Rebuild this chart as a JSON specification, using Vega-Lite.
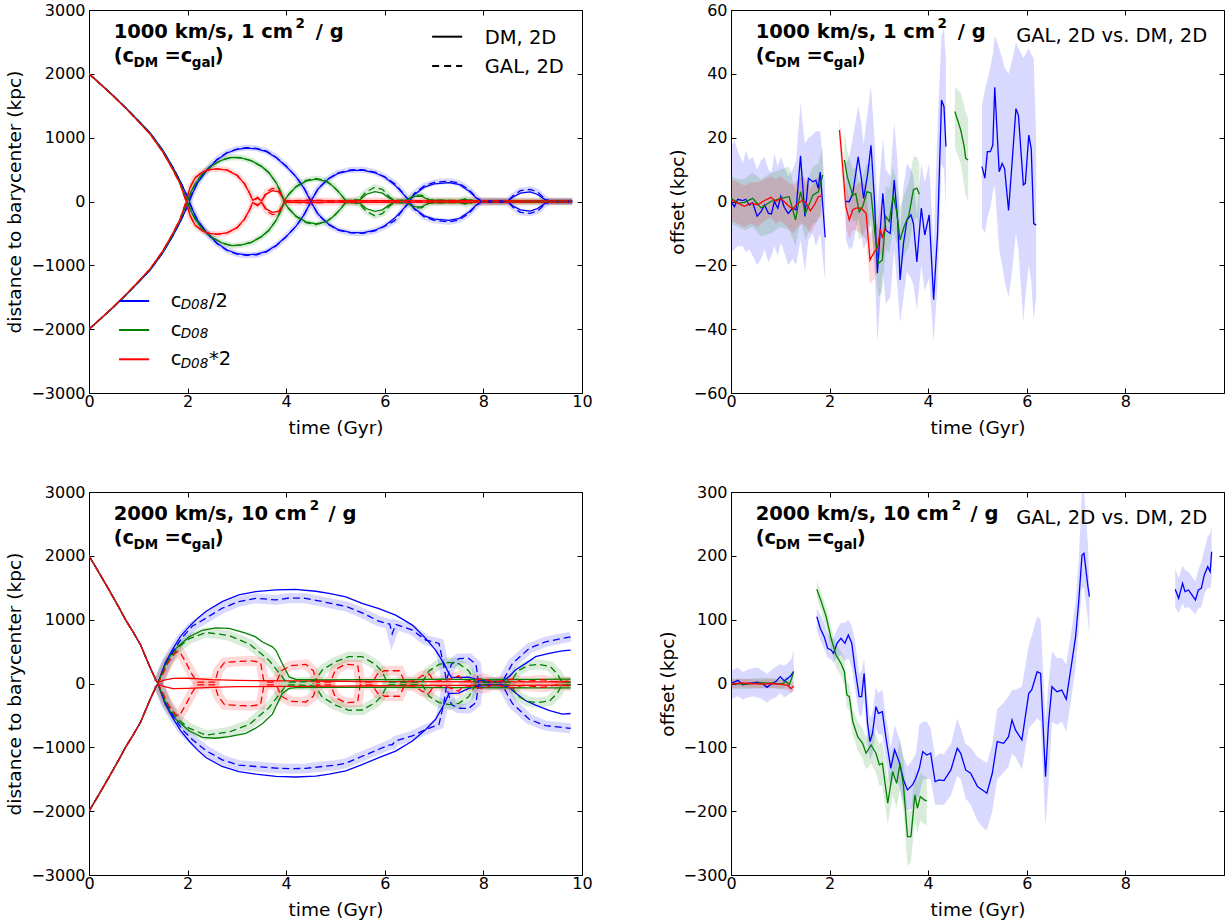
{
"$schema":"https://vega.github.io/schema/vega-lite/v6.json",
"padding":{"left":5,"top":1,"right":0,"bottom":2},
"config":{"view":{"stroke":"black","strokeWidth":1},"font":"DejaVu Sans",
"axis":{"domain":false,"grid":false,"format":"d","tickSize":-5,"tickColor":"black","tickWidth":1,"labelFlush":false,"labelOverlap":false,"labelFont":"DejaVu Sans","labelFontSize":16,"labelColor":"black","titleFont":"DejaVu Sans","titleFontSize":18.5,"titleFontWeight":"normal","titleColor":"black","titlePadding":6},
"axisX":{"labelPadding":5,"titlePadding":9},"axisY":{"labelPadding":9},
"text":{"font":"DejaVu Sans"}},
"columns":2,"bounds":"flush","spacing":{"row":99,"column":149},
"datasets":{
"tl":[
{"c":"b","k":"d","t":0,"u":2000,"l":-2000},{"c":"b","k":"d","t":0.25,"u":1830,"l":-1830},{"c":"b","k":"d","t":0.5,"u":1655,"l":-1655},{"c":"b","k":"d","t":0.75,"u":1465,"l":-1465},{"c":"b","k":"d","t":1,"u":1270,"l":-1270},{"c":"b","k":"d","t":1.25,"u":1065,"l":-1065},{"c":"b","k":"d","t":1.5,"u":800,"l":-800},{"c":"b","k":"d","t":1.7,"u":540,"l":-540},{"c":"b","k":"d","t":1.85,"u":320,"l":-320},{"c":"b","k":"d","t":1.97,"u":120,"l":-120},{"c":"b","k":"d","t":2.04,"u":15,"l":-15},{"c":"b","k":"d","t":2.1,"u":130,"l":-130},{"c":"b","k":"d","t":2.2,"u":290,"l":-290},{"c":"b","k":"d","t":2.4,"u":500,"l":-500},{"c":"b","k":"d","t":2.6,"u":655,"l":-655},{"c":"b","k":"d","t":2.8,"u":760,"l":-760},{"c":"b","k":"d","t":3,"u":815,"l":-815},{"c":"b","k":"d","t":3.2,"u":835,"l":-835},{"c":"b","k":"d","t":3.4,"u":825,"l":-825},{"c":"b","k":"d","t":3.6,"u":780,"l":-780},{"c":"b","k":"d","t":3.8,"u":685,"l":-685},{"c":"b","k":"d","t":4,"u":550,"l":-550},{"c":"b","k":"d","t":4.2,"u":385,"l":-385},{"c":"b","k":"d","t":4.35,"u":220,"l":-220},{"c":"b","k":"d","t":4.5,"u":5,"l":-5},{"c":"b","k":"d","t":4.65,"u":200,"l":-200},{"c":"b","k":"d","t":4.85,"u":350,"l":-350},{"c":"b","k":"d","t":5.05,"u":440,"l":-440},{"c":"b","k":"d","t":5.3,"u":485,"l":-485},{"c":"b","k":"d","t":5.55,"u":490,"l":-490},{"c":"b","k":"d","t":5.8,"u":450,"l":-450},{"c":"b","k":"d","t":6,"u":380,"l":-380},{"c":"b","k":"d","t":6.2,"u":260,"l":-260},{"c":"b","k":"d","t":6.35,"u":140,"l":-140},{"c":"b","k":"d","t":6.5,"u":5,"l":-5},{"c":"b","k":"d","t":6.6,"u":110,"l":-110},{"c":"b","k":"d","t":6.8,"u":225,"l":-225},{"c":"b","k":"d","t":7,"u":275,"l":-275},{"c":"b","k":"d","t":7.3,"u":295,"l":-295},{"c":"b","k":"d","t":7.5,"u":270,"l":-270},{"c":"b","k":"d","t":7.7,"u":170,"l":-170},{"c":"b","k":"d","t":7.85,"u":60,"l":-60},{"c":"b","k":"d","t":7.95,"u":10,"l":-10},{"c":"b","k":"d","t":8.5,"u":10,"l":-10},{"c":"b","k":"d","t":8.6,"u":70,"l":-70},{"c":"b","k":"d","t":8.75,"u":130,"l":-130},{"c":"b","k":"d","t":8.95,"u":150,"l":-150},{"c":"b","k":"d","t":9.1,"u":110,"l":-110},{"c":"b","k":"d","t":9.25,"u":30,"l":-30},{"c":"b","k":"d","t":9.35,"u":8,"l":-8},{"c":"b","k":"d","t":9.8,"u":8,"l":-8},
{"c":"b","k":"g","t":0,"u":2000,"l":-2000},{"c":"b","k":"g","t":0.25,"u":1830,"l":-1830},{"c":"b","k":"g","t":0.5,"u":1655,"l":-1655},{"c":"b","k":"g","t":0.75,"u":1465,"l":-1465},{"c":"b","k":"g","t":1,"u":1270,"l":-1270},{"c":"b","k":"g","t":1.25,"u":1065,"l":-1065},{"c":"b","k":"g","t":1.5,"u":800,"l":-800},{"c":"b","k":"g","t":1.7,"u":540,"l":-540},{"c":"b","k":"g","t":1.85,"u":320,"l":-320},{"c":"b","k":"g","t":1.97,"u":120,"l":-120},{"c":"b","k":"g","t":2.04,"u":15,"l":-15},{"c":"b","k":"g","t":2.1,"u":135,"l":-130},{"c":"b","k":"g","t":2.2,"u":295,"l":-292},{"c":"b","k":"g","t":2.4,"u":505,"l":-503},{"c":"b","k":"g","t":2.6,"u":660,"l":-660},{"c":"b","k":"g","t":2.8,"u":768,"l":-765},{"c":"b","k":"g","t":3,"u":822,"l":-825},{"c":"b","k":"g","t":3.2,"u":845,"l":-842},{"c":"b","k":"g","t":3.4,"u":832,"l":-835},{"c":"b","k":"g","t":3.6,"u":790,"l":-788},{"c":"b","k":"g","t":3.8,"u":690,"l":-692},{"c":"b","k":"g","t":4,"u":555,"l":-552},{"c":"b","k":"g","t":4.2,"u":390,"l":-388},{"c":"b","k":"g","t":4.35,"u":230,"l":-225},{"c":"b","k":"g","t":4.5,"u":5,"l":-5},{"c":"b","k":"g","t":4.65,"u":205,"l":-205},{"c":"b","k":"g","t":4.85,"u":355,"l":-358},{"c":"b","k":"g","t":5.05,"u":450,"l":-447},{"c":"b","k":"g","t":5.3,"u":495,"l":-492},{"c":"b","k":"g","t":5.55,"u":500,"l":-498},{"c":"b","k":"g","t":5.8,"u":462,"l":-460},{"c":"b","k":"g","t":6,"u":385,"l":-388},{"c":"b","k":"g","t":6.2,"u":280,"l":-300},{"c":"b","k":"g","t":6.35,"u":150,"l":-150},{"c":"b","k":"g","t":6.5,"u":5,"l":-5},{"c":"b","k":"g","t":6.6,"u":125,"l":-118},{"c":"b","k":"g","t":6.8,"u":245,"l":-240},{"c":"b","k":"g","t":7,"u":300,"l":-295},{"c":"b","k":"g","t":7.3,"u":320,"l":-320},{"c":"b","k":"g","t":7.5,"u":290,"l":-290},{"c":"b","k":"g","t":7.7,"u":190,"l":-190},{"c":"b","k":"g","t":7.85,"u":70,"l":-70},{"c":"b","k":"g","t":7.95,"u":10,"l":-10},{"c":"b","k":"g","t":8.5,"u":10,"l":-10},{"c":"b","k":"g","t":8.6,"u":90,"l":-90},{"c":"b","k":"g","t":8.75,"u":170,"l":-170},{"c":"b","k":"g","t":8.95,"u":190,"l":-185},{"c":"b","k":"g","t":9.1,"u":150,"l":-150},{"c":"b","k":"g","t":9.25,"u":40,"l":-40},{"c":"b","k":"g","t":9.35,"u":8,"l":-8},{"c":"b","k":"g","t":9.8,"u":8,"l":-8},
{"c":"g","k":"d","t":0,"u":2000,"l":-2000},{"c":"g","k":"d","t":0.25,"u":1828,"l":-1828},{"c":"g","k":"d","t":0.5,"u":1650,"l":-1650},{"c":"g","k":"d","t":0.75,"u":1460,"l":-1460},{"c":"g","k":"d","t":1,"u":1262,"l":-1262},{"c":"g","k":"d","t":1.25,"u":1055,"l":-1055},{"c":"g","k":"d","t":1.5,"u":785,"l":-785},{"c":"g","k":"d","t":1.7,"u":520,"l":-520},{"c":"g","k":"d","t":1.85,"u":295,"l":-295},{"c":"g","k":"d","t":1.95,"u":90,"l":-90},{"c":"g","k":"d","t":2,"u":10,"l":-10},{"c":"g","k":"d","t":2.07,"u":150,"l":-150},{"c":"g","k":"d","t":2.15,"u":270,"l":-270},{"c":"g","k":"d","t":2.3,"u":430,"l":-430},{"c":"g","k":"d","t":2.5,"u":565,"l":-565},{"c":"g","k":"d","t":2.7,"u":650,"l":-650},{"c":"g","k":"d","t":2.9,"u":690,"l":-690},{"c":"g","k":"d","t":3.1,"u":680,"l":-680},{"c":"g","k":"d","t":3.3,"u":635,"l":-635},{"c":"g","k":"d","t":3.5,"u":550,"l":-550},{"c":"g","k":"d","t":3.65,"u":450,"l":-450},{"c":"g","k":"d","t":3.8,"u":290,"l":-290},{"c":"g","k":"d","t":3.9,"u":130,"l":-130},{"c":"g","k":"d","t":3.96,"u":10,"l":-10},{"c":"g","k":"d","t":4.05,"u":110,"l":-110},{"c":"g","k":"d","t":4.2,"u":230,"l":-230},{"c":"g","k":"d","t":4.4,"u":320,"l":-320},{"c":"g","k":"d","t":4.6,"u":350,"l":-350},{"c":"g","k":"d","t":4.8,"u":320,"l":-320},{"c":"g","k":"d","t":4.95,"u":240,"l":-240},{"c":"g","k":"d","t":5.1,"u":120,"l":-120},{"c":"g","k":"d","t":5.2,"u":20,"l":-20},{"c":"g","k":"d","t":5.35,"u":15,"l":-15},{"c":"g","k":"d","t":5.5,"u":30,"l":-30},{"c":"g","k":"d","t":5.62,"u":110,"l":-110},{"c":"g","k":"d","t":5.8,"u":155,"l":-155},{"c":"g","k":"d","t":5.95,"u":130,"l":-130},{"c":"g","k":"d","t":6.1,"u":50,"l":-50},{"c":"g","k":"d","t":6.2,"u":15,"l":-15},{"c":"g","k":"d","t":6.45,"u":20,"l":-20},{"c":"g","k":"d","t":6.6,"u":80,"l":-80},{"c":"g","k":"d","t":6.75,"u":85,"l":-85},{"c":"g","k":"d","t":6.9,"u":20,"l":-20},{"c":"g","k":"d","t":7.5,"u":15,"l":-15},{"c":"g","k":"d","t":7.65,"u":30,"l":-30},{"c":"g","k":"d","t":7.8,"u":15,"l":-15},{"c":"g","k":"d","t":9.8,"u":10,"l":-10},
{"c":"g","k":"g","t":0,"u":2000,"l":-2000},{"c":"g","k":"g","t":0.25,"u":1828,"l":-1828},{"c":"g","k":"g","t":0.5,"u":1650,"l":-1650},{"c":"g","k":"g","t":0.75,"u":1460,"l":-1460},{"c":"g","k":"g","t":1,"u":1262,"l":-1262},{"c":"g","k":"g","t":1.25,"u":1055,"l":-1055},{"c":"g","k":"g","t":1.5,"u":785,"l":-785},{"c":"g","k":"g","t":1.7,"u":520,"l":-520},{"c":"g","k":"g","t":1.85,"u":295,"l":-295},{"c":"g","k":"g","t":1.95,"u":90,"l":-90},{"c":"g","k":"g","t":2,"u":10,"l":-10},{"c":"g","k":"g","t":2.07,"u":150,"l":-150},{"c":"g","k":"g","t":2.15,"u":270,"l":-270},{"c":"g","k":"g","t":2.3,"u":430,"l":-430},{"c":"g","k":"g","t":2.5,"u":565,"l":-565},{"c":"g","k":"g","t":2.7,"u":655,"l":-650},{"c":"g","k":"g","t":2.9,"u":695,"l":-695},{"c":"g","k":"g","t":3.1,"u":685,"l":-680},{"c":"g","k":"g","t":3.3,"u":635,"l":-640},{"c":"g","k":"g","t":3.5,"u":550,"l":-550},{"c":"g","k":"g","t":3.65,"u":450,"l":-450},{"c":"g","k":"g","t":3.8,"u":290,"l":-290},{"c":"g","k":"g","t":3.9,"u":130,"l":-130},{"c":"g","k":"g","t":3.96,"u":10,"l":-10},{"c":"g","k":"g","t":4.05,"u":110,"l":-110},{"c":"g","k":"g","t":4.2,"u":235,"l":-235},{"c":"g","k":"g","t":4.4,"u":330,"l":-330},{"c":"g","k":"g","t":4.6,"u":360,"l":-360},{"c":"g","k":"g","t":4.8,"u":330,"l":-325},{"c":"g","k":"g","t":4.95,"u":245,"l":-245},{"c":"g","k":"g","t":5.1,"u":120,"l":-120},{"c":"g","k":"g","t":5.2,"u":20,"l":-20},{"c":"g","k":"g","t":5.35,"u":15,"l":-15},{"c":"g","k":"g","t":5.5,"u":50,"l":-50},{"c":"g","k":"g","t":5.62,"u":150,"l":-150},{"c":"g","k":"g","t":5.8,"u":225,"l":-225},{"c":"g","k":"g","t":5.95,"u":190,"l":-190},{"c":"g","k":"g","t":6.1,"u":70,"l":-70},{"c":"g","k":"g","t":6.2,"u":15,"l":-15},{"c":"g","k":"g","t":6.45,"u":25,"l":-25},{"c":"g","k":"g","t":6.6,"u":100,"l":-100},{"c":"g","k":"g","t":6.75,"u":100,"l":-100},{"c":"g","k":"g","t":6.9,"u":25,"l":-25},{"c":"g","k":"g","t":7.5,"u":15,"l":-15},{"c":"g","k":"g","t":7.65,"u":45,"l":-45},{"c":"g","k":"g","t":7.8,"u":15,"l":-15},{"c":"g","k":"g","t":9.8,"u":10,"l":-10},
{"c":"r","k":"d","t":0,"u":2000,"l":-2000},{"c":"r","k":"d","t":0.25,"u":1826,"l":-1826},{"c":"r","k":"d","t":0.5,"u":1646,"l":-1646},{"c":"r","k":"d","t":0.75,"u":1455,"l":-1455},{"c":"r","k":"d","t":1,"u":1255,"l":-1255},{"c":"r","k":"d","t":1.25,"u":1045,"l":-1045},{"c":"r","k":"d","t":1.5,"u":770,"l":-770},{"c":"r","k":"d","t":1.7,"u":500,"l":-500},{"c":"r","k":"d","t":1.85,"u":270,"l":-270},{"c":"r","k":"d","t":1.93,"u":90,"l":-90},{"c":"r","k":"d","t":1.97,"u":10,"l":-10},{"c":"r","k":"d","t":2.05,"u":220,"l":-220},{"c":"r","k":"d","t":2.15,"u":370,"l":-370},{"c":"r","k":"d","t":2.3,"u":460,"l":-460},{"c":"r","k":"d","t":2.45,"u":500,"l":-500},{"c":"r","k":"d","t":2.6,"u":510,"l":-510},{"c":"r","k":"d","t":2.8,"u":490,"l":-490},{"c":"r","k":"d","t":3,"u":410,"l":-410},{"c":"r","k":"d","t":3.15,"u":280,"l":-280},{"c":"r","k":"d","t":3.25,"u":140,"l":-140},{"c":"r","k":"d","t":3.32,"u":20,"l":-20},{"c":"r","k":"d","t":3.42,"u":50,"l":-50},{"c":"r","k":"d","t":3.5,"u":10,"l":-10},{"c":"r","k":"d","t":3.6,"u":120,"l":-120},{"c":"r","k":"d","t":3.72,"u":170,"l":-170},{"c":"r","k":"d","t":3.85,"u":150,"l":-150},{"c":"r","k":"d","t":3.95,"u":30,"l":-30},{"c":"r","k":"d","t":4,"u":10,"l":-10},{"c":"r","k":"d","t":4.5,"u":15,"l":-15},{"c":"r","k":"d","t":5,"u":10,"l":-10},{"c":"r","k":"d","t":6,"u":12,"l":-12},{"c":"r","k":"d","t":7,"u":10,"l":-10},{"c":"r","k":"d","t":8,"u":12,"l":-12},{"c":"r","k":"d","t":9,"u":10,"l":-10},{"c":"r","k":"d","t":9.8,"u":10,"l":-10},
{"c":"r","k":"g","t":0,"u":2000,"l":-2000},{"c":"r","k":"g","t":0.25,"u":1826,"l":-1826},{"c":"r","k":"g","t":0.5,"u":1646,"l":-1646},{"c":"r","k":"g","t":0.75,"u":1455,"l":-1455},{"c":"r","k":"g","t":1,"u":1255,"l":-1255},{"c":"r","k":"g","t":1.25,"u":1045,"l":-1045},{"c":"r","k":"g","t":1.5,"u":770,"l":-770},{"c":"r","k":"g","t":1.7,"u":500,"l":-500},{"c":"r","k":"g","t":1.85,"u":270,"l":-270},{"c":"r","k":"g","t":1.93,"u":90,"l":-90},{"c":"r","k":"g","t":1.97,"u":10,"l":-10},{"c":"r","k":"g","t":2.05,"u":220,"l":-220},{"c":"r","k":"g","t":2.15,"u":370,"l":-370},{"c":"r","k":"g","t":2.3,"u":465,"l":-460},{"c":"r","k":"g","t":2.45,"u":505,"l":-505},{"c":"r","k":"g","t":2.6,"u":512,"l":-515},{"c":"r","k":"g","t":2.8,"u":495,"l":-492},{"c":"r","k":"g","t":3,"u":415,"l":-415},{"c":"r","k":"g","t":3.15,"u":285,"l":-285},{"c":"r","k":"g","t":3.25,"u":145,"l":-145},{"c":"r","k":"g","t":3.32,"u":20,"l":-20},{"c":"r","k":"g","t":3.42,"u":65,"l":-65},{"c":"r","k":"g","t":3.5,"u":10,"l":-10},{"c":"r","k":"g","t":3.6,"u":150,"l":-150},{"c":"r","k":"g","t":3.72,"u":205,"l":-205},{"c":"r","k":"g","t":3.85,"u":180,"l":-180},{"c":"r","k":"g","t":3.95,"u":30,"l":-30},{"c":"r","k":"g","t":4,"u":10,"l":-10},{"c":"r","k":"g","t":4.5,"u":25,"l":-25},{"c":"r","k":"g","t":5,"u":10,"l":-10},{"c":"r","k":"g","t":6,"u":15,"l":-15},{"c":"r","k":"g","t":7,"u":10,"l":-10},{"c":"r","k":"g","t":8,"u":15,"l":-15},{"c":"r","k":"g","t":9,"u":10,"l":-10},{"c":"r","k":"g","t":9.8,"u":10,"l":-10}
],
"bl":[
{"c":"b","k":"d","t":0,"u":2000,"l":-2000},{"c":"b","k":"d","t":0.2,"u":1740,"l":-1740},{"c":"b","k":"d","t":0.4,"u":1475,"l":-1475},{"c":"b","k":"d","t":0.6,"u":1200,"l":-1200},{"c":"b","k":"d","t":0.74,"u":1000,"l":-1000},{"c":"b","k":"d","t":0.9,"u":800,"l":-800},{"c":"b","k":"d","t":1.05,"u":600,"l":-600},{"c":"b","k":"d","t":1.2,"u":320,"l":-320},{"c":"b","k":"d","t":1.3,"u":150,"l":-150},{"c":"b","k":"d","t":1.36,"u":50,"l":-50},{"c":"b","k":"d","t":1.4,"u":10,"l":-10},
{"c":"b","k":"d","t":1.45,"u":120,"l":-120},{"c":"b","k":"d","t":1.55,"u":330,"l":-330},{"c":"b","k":"d","t":1.7,"u":540,"l":-540},{"c":"b","k":"d","t":1.85,"u":730,"l":-730},{"c":"b","k":"d","t":2.03,"u":890,"l":-900},{"c":"b","k":"d","t":2.2,"u":1020,"l":-1040},{"c":"b","k":"d","t":2.37,"u":1127,"l":-1160},{"c":"b","k":"d","t":2.7,"u":1283,"l":-1300},{"c":"b","k":"d","t":3.04,"u":1387,"l":-1380},{"c":"b","k":"d","t":3.38,"u":1440,"l":-1420},{"c":"b","k":"d","t":3.79,"u":1466,"l":-1456},{"c":"b","k":"d","t":4.19,"u":1476,"l":-1465},{"c":"b","k":"d","t":4.6,"u":1445,"l":-1450},{"c":"b","k":"d","t":4.87,"u":1411,"l":-1420},{"c":"b","k":"d","t":5.21,"u":1358,"l":-1370},{"c":"b","k":"d","t":5.54,"u":1254,"l":-1270},{"c":"b","k":"d","t":5.88,"u":1174,"l":-1160},{"c":"b","k":"d","t":6.22,"u":1070,"l":-1060},{"c":"b","k":"d","t":6.56,"u":915,"l":-900},{"c":"b","k":"d","t":6.83,"u":706,"l":-720},{"c":"b","k":"d","t":7.03,"u":524,"l":-560},{"c":"b","k":"d","t":7.2,"u":315,"l":-330},{"c":"b","k":"d","t":7.3,"u":159,"l":-160},{"c":"b","k":"d","t":7.35,"u":100,"l":-155},{"c":"b","k":"d","t":7.5,"u":95,"l":-150},{"c":"b","k":"d","t":7.7,"u":100,"l":-76},{"c":"b","k":"d","t":7.9,"u":55,"l":-40},{"c":"b","k":"d","t":8.1,"u":29,"l":-25},{"c":"b","k":"d","t":8.38,"u":29,"l":-25},{"c":"b","k":"d","t":8.52,"u":107,"l":-60},{"c":"b","k":"d","t":8.65,"u":211,"l":-150},{"c":"b","k":"d","t":8.86,"u":315,"l":-270},{"c":"b","k":"d","t":9.06,"u":420,"l":-340},{"c":"b","k":"d","t":9.33,"u":472,"l":-420},{"c":"b","k":"d","t":9.6,"u":512,"l":-480},{"c":"b","k":"d","t":9.77,"u":522,"l":-470},
{"c":"b","k":"g","t":0,"u":2000,"l":-2000},{"c":"b","k":"g","t":0.2,"u":1740,"l":-1740},{"c":"b","k":"g","t":0.4,"u":1475,"l":-1475},{"c":"b","k":"g","t":0.6,"u":1200,"l":-1200},{"c":"b","k":"g","t":0.74,"u":1000,"l":-1000},{"c":"b","k":"g","t":0.9,"u":800,"l":-800},{"c":"b","k":"g","t":1.05,"u":600,"l":-600},{"c":"b","k":"g","t":1.2,"u":320,"l":-320},{"c":"b","k":"g","t":1.3,"u":150,"l":-150},{"c":"b","k":"g","t":1.36,"u":50,"l":-50},{"c":"b","k":"g","t":1.4,"u":10,"l":-10},
{"c":"b","k":"g","t":1.45,"u":100,"l":-100},{"c":"b","k":"g","t":1.55,"u":300,"l":-300},{"c":"b","k":"g","t":1.7,"u":500,"l":-500},{"c":"b","k":"g","t":1.89,"u":720,"l":-720},{"c":"b","k":"g","t":2.1,"u":900,"l":-880},{"c":"b","k":"g","t":2.37,"u":1022,"l":-1050},{"c":"b","k":"g","t":2.7,"u":1179,"l":-1195},{"c":"b","k":"g","t":3.04,"u":1283,"l":-1280},{"c":"b","k":"g","t":3.38,"u":1335,"l":-1300},{"c":"b","k":"g","t":3.79,"u":1309,"l":-1326},{"c":"b","k":"g","t":4.06,"u":1340,"l":-1335},{"c":"b","k":"g","t":4.39,"u":1335,"l":-1330},{"c":"b","k":"g","t":4.73,"u":1283,"l":-1300},{"c":"b","k":"g","t":5,"u":1240,"l":-1280},{"c":"b","k":"g","t":5.21,"u":1210,"l":-1250},{"c":"b","k":"g","t":5.54,"u":1106,"l":-1140},{"c":"b","k":"g","t":5.88,"u":976,"l":-1030},{"c":"b","k":"g","t":6.1,"u":930,"l":-960},{"c":"b","k":"g","t":6.15,"u":780,"l":-960},{"c":"b","k":"g","t":6.22,"u":925,"l":-900},{"c":"b","k":"g","t":6.56,"u":837,"l":-820},{"c":"b","k":"g","t":6.83,"u":680,"l":-720},{"c":"b","k":"g","t":7.1,"u":628,"l":-640},{"c":"b","k":"g","t":7.2,"u":262,"l":-300},{"c":"b","k":"g","t":7.25,"u":50,"l":-50},{"c":"b","k":"g","t":7.35,"u":300,"l":-330},{"c":"b","k":"g","t":7.5,"u":390,"l":-388},{"c":"b","k":"g","t":7.7,"u":395,"l":-390},{"c":"b","k":"g","t":7.85,"u":300,"l":-300},{"c":"b","k":"g","t":7.9,"u":20,"l":-20},{"c":"b","k":"g","t":8.38,"u":20,"l":-20},{"c":"b","k":"g","t":8.59,"u":315,"l":-315},{"c":"b","k":"g","t":8.93,"u":550,"l":-560},{"c":"b","k":"g","t":9.26,"u":654,"l":-660},{"c":"b","k":"g","t":9.6,"u":706,"l":-690},{"c":"b","k":"g","t":9.77,"u":732,"l":-702},
{"c":"g","k":"d","t":0,"u":2000,"l":-2000},{"c":"g","k":"d","t":0.2,"u":1740,"l":-1740},{"c":"g","k":"d","t":0.4,"u":1475,"l":-1475},{"c":"g","k":"d","t":0.6,"u":1200,"l":-1200},{"c":"g","k":"d","t":0.74,"u":1000,"l":-1000},{"c":"g","k":"d","t":0.9,"u":800,"l":-800},{"c":"g","k":"d","t":1.05,"u":600,"l":-600},{"c":"g","k":"d","t":1.2,"u":320,"l":-320},{"c":"g","k":"d","t":1.3,"u":150,"l":-150},{"c":"g","k":"d","t":1.36,"u":50,"l":-50},{"c":"g","k":"d","t":1.4,"u":10,"l":-10},
{"c":"g","k":"d","t":1.5,"u":200,"l":-200},{"c":"g","k":"d","t":1.6,"u":380,"l":-380},{"c":"g","k":"d","t":1.76,"u":550,"l":-560},{"c":"g","k":"d","t":2.03,"u":730,"l":-740},{"c":"g","k":"d","t":2.3,"u":834,"l":-845},{"c":"g","k":"d","t":2.57,"u":870,"l":-858},{"c":"g","k":"d","t":2.84,"u":865,"l":-832},{"c":"g","k":"d","t":3.18,"u":790,"l":-780},{"c":"g","k":"d","t":3.38,"u":730,"l":-700},{"c":"g","k":"d","t":3.52,"u":650,"l":-626},{"c":"g","k":"d","t":3.72,"u":574,"l":-480},{"c":"g","k":"d","t":3.79,"u":520,"l":-365},{"c":"g","k":"d","t":3.92,"u":313,"l":-157},{"c":"g","k":"d","t":4.06,"u":104,"l":-78},{"c":"g","k":"d","t":4.19,"u":65,"l":-65},{"c":"g","k":"d","t":4.73,"u":55,"l":-60},{"c":"g","k":"d","t":5.5,"u":60,"l":-62},{"c":"g","k":"d","t":6.5,"u":60,"l":-62},{"c":"g","k":"d","t":7.2,"u":70,"l":-65},{"c":"g","k":"d","t":8,"u":60,"l":-65},{"c":"g","k":"d","t":9,"u":65,"l":-68},{"c":"g","k":"d","t":9.77,"u":70,"l":-70},
{"c":"g","k":"g","t":0,"u":2000,"l":-2000},{"c":"g","k":"g","t":0.2,"u":1740,"l":-1740},{"c":"g","k":"g","t":0.4,"u":1475,"l":-1475},{"c":"g","k":"g","t":0.6,"u":1200,"l":-1200},{"c":"g","k":"g","t":0.74,"u":1000,"l":-1000},{"c":"g","k":"g","t":0.9,"u":800,"l":-800},{"c":"g","k":"g","t":1.05,"u":600,"l":-600},{"c":"g","k":"g","t":1.2,"u":320,"l":-320},{"c":"g","k":"g","t":1.3,"u":150,"l":-150},{"c":"g","k":"g","t":1.36,"u":50,"l":-50},{"c":"g","k":"g","t":1.4,"u":10,"l":-10},
{"c":"g","k":"g","t":1.5,"u":180,"l":-180},{"c":"g","k":"g","t":1.6,"u":350,"l":-350},{"c":"g","k":"g","t":1.8,"u":560,"l":-560},{"c":"g","k":"g","t":2.03,"u":700,"l":-700},{"c":"g","k":"g","t":2.37,"u":800,"l":-810},{"c":"g","k":"g","t":2.84,"u":751,"l":-760},{"c":"g","k":"g","t":3.25,"u":620,"l":-640},{"c":"g","k":"g","t":3.65,"u":365,"l":-380},{"c":"g","k":"g","t":3.92,"u":104,"l":-110},{"c":"g","k":"g","t":4,"u":20,"l":-20},{"c":"g","k":"g","t":4.5,"u":30,"l":-30},{"c":"g","k":"g","t":4.6,"u":60,"l":-60},{"c":"g","k":"g","t":4.73,"u":210,"l":-210},{"c":"g","k":"g","t":5,"u":340,"l":-340},{"c":"g","k":"g","t":5.27,"u":420,"l":-420},{"c":"g","k":"g","t":5.54,"u":420,"l":-415},{"c":"g","k":"g","t":5.81,"u":300,"l":-300},{"c":"g","k":"g","t":5.95,"u":180,"l":-180},{"c":"g","k":"g","t":6.05,"u":20,"l":-20},{"c":"g","k":"g","t":6.76,"u":20,"l":-20},{"c":"g","k":"g","t":6.9,"u":200,"l":-200},{"c":"g","k":"g","t":7.1,"u":300,"l":-300},{"c":"g","k":"g","t":7.3,"u":330,"l":-330},{"c":"g","k":"g","t":7.5,"u":310,"l":-310},{"c":"g","k":"g","t":7.7,"u":200,"l":-210},{"c":"g","k":"g","t":7.84,"u":20,"l":-20},{"c":"g","k":"g","t":8.55,"u":20,"l":-20},{"c":"g","k":"g","t":8.7,"u":200,"l":-200},{"c":"g","k":"g","t":8.9,"u":280,"l":-280},{"c":"g","k":"g","t":9.1,"u":300,"l":-300},{"c":"g","k":"g","t":9.35,"u":270,"l":-270},{"c":"g","k":"g","t":9.5,"u":150,"l":-150},{"c":"g","k":"g","t":9.6,"u":20,"l":-20},{"c":"g","k":"g","t":9.77,"u":20,"l":-20},
{"c":"r","k":"d","t":0,"u":2000,"l":-2000},{"c":"r","k":"d","t":0.2,"u":1740,"l":-1740},{"c":"r","k":"d","t":0.4,"u":1475,"l":-1475},{"c":"r","k":"d","t":0.6,"u":1200,"l":-1200},{"c":"r","k":"d","t":0.74,"u":1000,"l":-1000},{"c":"r","k":"d","t":0.9,"u":800,"l":-800},{"c":"r","k":"d","t":1.05,"u":600,"l":-600},{"c":"r","k":"d","t":1.2,"u":320,"l":-320},{"c":"r","k":"d","t":1.3,"u":150,"l":-150},{"c":"r","k":"d","t":1.36,"u":50,"l":-50},{"c":"r","k":"d","t":1.4,"u":10,"l":-10},
{"c":"r","k":"d","t":1.5,"u":50,"l":-40},{"c":"r","k":"d","t":1.7,"u":80,"l":-80},{"c":"r","k":"d","t":2,"u":82,"l":-75},{"c":"r","k":"d","t":2.5,"u":60,"l":-60},{"c":"r","k":"d","t":3,"u":50,"l":-50},{"c":"r","k":"d","t":4,"u":40,"l":-45},{"c":"r","k":"d","t":5,"u":35,"l":-40},{"c":"r","k":"d","t":6,"u":30,"l":-35},{"c":"r","k":"d","t":7,"u":30,"l":-30},{"c":"r","k":"d","t":8,"u":25,"l":-30},{"c":"r","k":"d","t":9.77,"u":25,"l":-25},
{"c":"r","k":"g","t":0,"u":2000,"l":-2000},{"c":"r","k":"g","t":0.2,"u":1740,"l":-1740},{"c":"r","k":"g","t":0.4,"u":1475,"l":-1475},{"c":"r","k":"g","t":0.6,"u":1200,"l":-1200},{"c":"r","k":"g","t":0.74,"u":1000,"l":-1000},{"c":"r","k":"g","t":0.9,"u":800,"l":-800},{"c":"r","k":"g","t":1.05,"u":600,"l":-600},{"c":"r","k":"g","t":1.2,"u":320,"l":-320},{"c":"r","k":"g","t":1.3,"u":150,"l":-150},{"c":"r","k":"g","t":1.36,"u":50,"l":-50},{"c":"r","k":"g","t":1.4,"u":10,"l":-10},
{"c":"r","k":"g","t":1.5,"u":150,"l":-150},{"c":"r","k":"g","t":1.6,"u":320,"l":-320},{"c":"r","k":"g","t":1.75,"u":480,"l":-480},{"c":"r","k":"g","t":1.83,"u":510,"l":-510},{"c":"r","k":"g","t":1.95,"u":350,"l":-350},{"c":"r","k":"g","t":2.1,"u":130,"l":-130},{"c":"r","k":"g","t":2.2,"u":20,"l":-20},{"c":"r","k":"g","t":2.55,"u":20,"l":-20},{"c":"r","k":"g","t":2.62,"u":200,"l":-200},{"c":"r","k":"g","t":2.75,"u":330,"l":-330},{"c":"r","k":"g","t":3,"u":345,"l":-345},{"c":"r","k":"g","t":3.3,"u":355,"l":-350},{"c":"r","k":"g","t":3.48,"u":330,"l":-330},{"c":"r","k":"g","t":3.55,"u":20,"l":-20},{"c":"r","k":"g","t":3.8,"u":20,"l":-20},{"c":"r","k":"g","t":3.9,"u":200,"l":-200},{"c":"r","k":"g","t":4.1,"u":280,"l":-280},{"c":"r","k":"g","t":4.4,"u":300,"l":-290},{"c":"r","k":"g","t":4.55,"u":200,"l":-200},{"c":"r","k":"g","t":4.62,"u":20,"l":-20},{"c":"r","k":"g","t":4.9,"u":20,"l":-20},{"c":"r","k":"g","t":5,"u":220,"l":-220},{"c":"r","k":"g","t":5.2,"u":300,"l":-300},{"c":"r","k":"g","t":5.45,"u":290,"l":-290},{"c":"r","k":"g","t":5.5,"u":20,"l":-20},{"c":"r","k":"g","t":5.75,"u":20,"l":-20},{"c":"r","k":"g","t":5.85,"u":150,"l":-150},{"c":"r","k":"g","t":6,"u":200,"l":-200},{"c":"r","k":"g","t":6.3,"u":200,"l":-200},{"c":"r","k":"g","t":6.4,"u":30,"l":-30},{"c":"r","k":"g","t":6.6,"u":40,"l":-40},{"c":"r","k":"g","t":6.75,"u":120,"l":-120},{"c":"r","k":"g","t":6.9,"u":150,"l":-150},{"c":"r","k":"g","t":7,"u":30,"l":-30},{"c":"r","k":"g","t":7.3,"u":60,"l":-60},{"c":"r","k":"g","t":7.5,"u":120,"l":-120},{"c":"r","k":"g","t":7.6,"u":30,"l":-30},{"c":"r","k":"g","t":8,"u":80,"l":-80},{"c":"r","k":"g","t":8.2,"u":20,"l":-20},{"c":"r","k":"g","t":8.6,"u":70,"l":-70},{"c":"r","k":"g","t":8.8,"u":30,"l":-30},{"c":"r","k":"g","t":9.2,"u":60,"l":-60},{"c":"r","k":"g","t":9.5,"u":20,"l":-20},{"c":"r","k":"g","t":9.77,"u":40,"l":-40}
],
"tr":[
{"c":"b","s":1,"t":0,"v":0,"lo":-16,"hi":17},{"c":"b","s":1,"t":0.07,"v":-1.6,"lo":-15,"hi":19},{"c":"b","s":1,"t":0.135,"v":0.7,"lo":-14,"hi":16},{"c":"b","s":1,"t":0.24,"v":0.3,"lo":-14,"hi":12},{"c":"b","s":1,"t":0.3,"v":0.7,"lo":-16,"hi":16},{"c":"b","s":1,"t":0.37,"v":-1.1,"lo":-15,"hi":13},{"c":"b","s":1,"t":0.44,"v":-0.4,"lo":-17,"hi":14},{"c":"b","s":1,"t":0.53,"v":-4.6,"lo":-20,"hi":10},{"c":"b","s":1,"t":0.61,"v":-3.2,"lo":-18,"hi":13},{"c":"b","s":1,"t":0.68,"v":-1.1,"lo":-15,"hi":14},{"c":"b","s":1,"t":0.76,"v":-3.7,"lo":-19,"hi":10},{"c":"b","s":1,"t":0.82,"v":-3.9,"lo":-17,"hi":9},{"c":"b","s":1,"t":0.88,"v":0,"lo":-14,"hi":15},{"c":"b","s":1,"t":0.95,"v":-2.1,"lo":-17,"hi":11},{"c":"b","s":1,"t":1.01,"v":1.6,"lo":-13,"hi":14},{"c":"b","s":1,"t":1.08,"v":-1.8,"lo":-16,"hi":11},{"c":"b","s":1,"t":1.16,"v":-3.7,"lo":-20,"hi":8},{"c":"b","s":1,"t":1.25,"v":-2.1,"lo":-18,"hi":10},{"c":"b","s":1,"t":1.32,"v":-2.6,"lo":-20,"hi":13},{"c":"b","s":1,"t":1.41,"v":14.3,"lo":-12,"hi":31},{"c":"b","s":1,"t":1.5,"v":-4.7,"lo":-22,"hi":18},{"c":"b","s":1,"t":1.57,"v":7.3,"lo":-12,"hi":20},{"c":"b","s":1,"t":1.66,"v":6.2,"lo":-10,"hi":21},{"c":"b","s":1,"t":1.72,"v":6.7,"lo":-14,"hi":22},{"c":"b","s":1,"t":1.77,"v":4.1,"lo":-12,"hi":22},{"c":"b","s":1,"t":1.81,"v":9.2,"lo":-10,"hi":22},{"c":"b","s":1,"t":1.91,"v":-11.2,"lo":-25,"hi":5},
{"c":"b","s":2,"t":2.33,"v":0,"lo":-12,"hi":12},{"c":"b","s":2,"t":2.4,"v":0,"lo":-15,"hi":14},{"c":"b","s":2,"t":2.47,"v":2.5,"lo":-14,"hi":20},{"c":"b","s":2,"t":2.58,"v":14,"lo":-5,"hi":30},{"c":"b","s":2,"t":2.64,"v":7.7,"lo":-10,"hi":25},{"c":"b","s":2,"t":2.69,"v":1,"lo":-15,"hi":18},{"c":"b","s":2,"t":2.77,"v":8.4,"lo":-12,"hi":28},{"c":"b","s":2,"t":2.84,"v":17.6,"lo":-5,"hi":36},{"c":"b","s":2,"t":2.91,"v":0.5,"lo":-20,"hi":20},{"c":"b","s":2,"t":2.97,"v":-22.5,"lo":-44,"hi":-2},{"c":"b","s":2,"t":3.03,"v":-8.4,"lo":-30,"hi":10},{"c":"b","s":2,"t":3.08,"v":2.6,"lo":-22,"hi":20},{"c":"b","s":2,"t":3.14,"v":-9,"lo":-32,"hi":10},{"c":"b","s":2,"t":3.23,"v":-10,"lo":-30,"hi":8},{"c":"b","s":2,"t":3.31,"v":6.7,"lo":-15,"hi":25},{"c":"b","s":2,"t":3.38,"v":-5.8,"lo":-28,"hi":12},{"c":"b","s":2,"t":3.43,"v":-24.6,"lo":-38,"hi":-8},{"c":"b","s":2,"t":3.5,"v":-13,"lo":-30,"hi":5},{"c":"b","s":2,"t":3.57,"v":-5.8,"lo":-22,"hi":12},{"c":"b","s":2,"t":3.65,"v":-4.2,"lo":-24,"hi":10},{"c":"b","s":2,"t":3.7,"v":-6.8,"lo":-26,"hi":8},{"c":"b","s":2,"t":3.77,"v":-18.9,"lo":-34,"hi":-4},{"c":"b","s":2,"t":3.86,"v":-2.1,"lo":-20,"hi":12},{"c":"b","s":2,"t":3.93,"v":-10.5,"lo":-28,"hi":6},{"c":"b","s":2,"t":4.02,"v":-4.2,"lo":-24,"hi":12},{"c":"b","s":2,"t":4.11,"v":-30.8,"lo":-44,"hi":-14},{"c":"b","s":2,"t":4.19,"v":-10,"lo":-26,"hi":24},{"c":"b","s":2,"t":4.27,"v":31.8,"lo":12,"hi":52},{"c":"b","s":2,"t":4.32,"v":29.7,"lo":10,"hi":54},{"c":"b","s":2,"t":4.36,"v":17.2,"lo":-2,"hi":44},
{"c":"b","s":3,"t":5.09,"v":10.9,"lo":-8,"hi":30},{"c":"b","s":3,"t":5.15,"v":7.3,"lo":-10,"hi":35},{"c":"b","s":3,"t":5.2,"v":15.6,"lo":-5,"hi":38},{"c":"b","s":3,"t":5.26,"v":15.6,"lo":-2,"hi":42},{"c":"b","s":3,"t":5.31,"v":17.7,"lo":3,"hi":46},{"c":"b","s":3,"t":5.35,"v":35.8,"lo":5,"hi":52},{"c":"b","s":3,"t":5.44,"v":9.3,"lo":-15,"hi":48},{"c":"b","s":3,"t":5.5,"v":11.9,"lo":-20,"hi":45},{"c":"b","s":3,"t":5.55,"v":10.3,"lo":-25,"hi":42},{"c":"b","s":3,"t":5.63,"v":-2.8,"lo":-30,"hi":40},{"c":"b","s":3,"t":5.7,"v":11.9,"lo":-22,"hi":44},{"c":"b","s":3,"t":5.78,"v":29.1,"lo":-10,"hi":50},{"c":"b","s":3,"t":5.83,"v":27,"lo":-15,"hi":48},{"c":"b","s":3,"t":5.93,"v":5.2,"lo":-38,"hi":45},{"c":"b","s":3,"t":5.97,"v":5.7,"lo":-30,"hi":46},{"c":"b","s":3,"t":6.04,"v":20.8,"lo":-20,"hi":48},{"c":"b","s":3,"t":6.09,"v":16.6,"lo":-25,"hi":46},{"c":"b","s":3,"t":6.14,"v":-6.9,"lo":-37,"hi":45},{"c":"b","s":3,"t":6.19,"v":-7.4,"lo":-30,"hi":20},
{"c":"g","s":1,"t":0,"v":1,"lo":-7,"hi":8},{"c":"g","s":1,"t":0.15,"v":-0.5,"lo":-8,"hi":7},{"c":"g","s":1,"t":0.27,"v":-0.3,"lo":-9,"hi":7},{"c":"g","s":1,"t":0.44,"v":1,"lo":-8,"hi":9},{"c":"g","s":1,"t":0.61,"v":-2,"lo":-11,"hi":7},{"c":"g","s":1,"t":0.81,"v":0,"lo":-10,"hi":9},{"c":"g","s":1,"t":1.01,"v":1,"lo":-8,"hi":10},{"c":"g","s":1,"t":1.18,"v":1.5,"lo":-9,"hi":11},{"c":"g","s":1,"t":1.31,"v":-5.8,"lo":-14,"hi":3},{"c":"g","s":1,"t":1.41,"v":3.1,"lo":-6,"hi":12},{"c":"g","s":1,"t":1.51,"v":-3.8,"lo":-12,"hi":5},{"c":"g","s":1,"t":1.66,"v":2,"lo":-7,"hi":11},{"c":"g","s":1,"t":1.77,"v":3,"lo":-6,"hi":12},{"c":"g","s":1,"t":1.86,"v":8.3,"lo":-1,"hi":17},
{"c":"g","s":2,"t":2.3,"v":13,"lo":6,"hi":22},{"c":"g","s":2,"t":2.36,"v":7.7,"lo":0,"hi":16},{"c":"g","s":2,"t":2.47,"v":1.9,"lo":-6,"hi":10},{"c":"g","s":2,"t":2.53,"v":2.5,"lo":-6,"hi":11},{"c":"g","s":2,"t":2.6,"v":-3.2,"lo":-12,"hi":6},{"c":"g","s":2,"t":2.67,"v":-1.6,"lo":-11,"hi":8},{"c":"g","s":2,"t":2.76,"v":3.1,"lo":-7,"hi":12},{"c":"g","s":2,"t":2.84,"v":2.6,"lo":-8,"hi":12},{"c":"g","s":2,"t":2.92,"v":-10,"lo":-20,"hi":0},{"c":"g","s":2,"t":2.99,"v":-19.4,"lo":-30,"hi":-9},{"c":"g","s":2,"t":3.07,"v":-18.3,"lo":-28,"hi":-8},{"c":"g","s":2,"t":3.14,"v":-4.7,"lo":-15,"hi":5},{"c":"g","s":2,"t":3.21,"v":-6.3,"lo":-16,"hi":4},{"c":"g","s":2,"t":3.29,"v":2,"lo":-9,"hi":11},{"c":"g","s":2,"t":3.36,"v":-3.2,"lo":-13,"hi":6},{"c":"g","s":2,"t":3.43,"v":-12.1,"lo":-21,"hi":-2},{"c":"g","s":2,"t":3.51,"v":-7.9,"lo":-17,"hi":2},{"c":"g","s":2,"t":3.61,"v":-4.2,"lo":-14,"hi":6},{"c":"g","s":2,"t":3.7,"v":3.7,"lo":-6,"hi":14},{"c":"g","s":2,"t":3.77,"v":4.2,"lo":-5,"hi":14},{"c":"g","s":2,"t":3.82,"v":2.3,"lo":-7,"hi":12},
{"c":"g","s":3,"t":4.54,"v":28.2,"lo":17,"hi":36},{"c":"g","s":3,"t":4.66,"v":22.4,"lo":12,"hi":34},{"c":"g","s":3,"t":4.73,"v":17.2,"lo":5,"hi":30},{"c":"g","s":3,"t":4.76,"v":13.5,"lo":2,"hi":28},{"c":"g","s":3,"t":4.81,"v":13,"lo":0,"hi":26},
{"c":"r","s":1,"t":0,"v":0.5,"lo":-6,"hi":7},{"c":"r","s":1,"t":0.14,"v":-0.5,"lo":-7,"hi":6},{"c":"r","s":1,"t":0.27,"v":-1.5,"lo":-8,"hi":5},{"c":"r","s":1,"t":0.41,"v":-0.5,"lo":-7,"hi":6},{"c":"r","s":1,"t":0.54,"v":-1,"lo":-8,"hi":6},{"c":"r","s":1,"t":0.68,"v":0.3,"lo":-6,"hi":7},{"c":"r","s":1,"t":0.81,"v":1.3,"lo":-5,"hi":8},{"c":"r","s":1,"t":0.91,"v":0,"lo":-7,"hi":7},{"c":"r","s":1,"t":1.01,"v":1,"lo":-6,"hi":8},{"c":"r","s":1,"t":1.15,"v":-1.1,"lo":-8,"hi":6},{"c":"r","s":1,"t":1.25,"v":-2.4,"lo":-10,"hi":5},{"c":"r","s":1,"t":1.35,"v":-0.6,"lo":-8,"hi":7},{"c":"r","s":1,"t":1.45,"v":0.4,"lo":-7,"hi":8},{"c":"r","s":1,"t":1.52,"v":-0.4,"lo":-8,"hi":7},{"c":"r","s":1,"t":1.61,"v":-2.9,"lo":-10,"hi":4},{"c":"r","s":1,"t":1.69,"v":-1.1,"lo":-8,"hi":6},{"c":"r","s":1,"t":1.77,"v":1.5,"lo":-5,"hi":8},{"c":"r","s":1,"t":1.83,"v":1.7,"lo":-5,"hi":9},
{"c":"r","s":2,"t":2.2,"v":22.4,"lo":18,"hi":26},{"c":"r","s":2,"t":2.26,"v":12,"lo":6,"hi":17},{"c":"r","s":2,"t":2.33,"v":-1.6,"lo":-8,"hi":5},{"c":"r","s":2,"t":2.4,"v":-5.8,"lo":-12,"hi":1},{"c":"r","s":2,"t":2.47,"v":-2.6,"lo":-9,"hi":4},{"c":"r","s":2,"t":2.53,"v":-2.1,"lo":-9,"hi":5},{"c":"r","s":2,"t":2.64,"v":-2.1,"lo":-10,"hi":6},{"c":"r","s":2,"t":2.74,"v":-3.7,"lo":-12,"hi":5},{"c":"r","s":2,"t":2.82,"v":-18.3,"lo":-26,"hi":-10},{"c":"r","s":2,"t":2.91,"v":-15.7,"lo":-24,"hi":-8},{"c":"r","s":2,"t":2.97,"v":-14.7,"lo":-22,"hi":-7},{"c":"r","s":2,"t":3.03,"v":-8.7,"lo":-16,"hi":-1},{"c":"r","s":2,"t":3.07,"v":-11.5,"lo":-18,"hi":-4},{"c":"r","s":2,"t":3.12,"v":-8.4,"lo":-15,"hi":-1}
],
"br":[
{"c":"b","s":1,"t":0,"v":0,"lo":-25,"hi":20},{"c":"b","s":1,"t":0.14,"v":5,"lo":-20,"hi":25},{"c":"b","s":1,"t":0.24,"v":-2,"lo":-25,"hi":18},{"c":"b","s":1,"t":0.34,"v":0,"lo":-22,"hi":22},{"c":"b","s":1,"t":0.44,"v":1,"lo":-20,"hi":24},{"c":"b","s":1,"t":0.54,"v":2,"lo":-22,"hi":25},{"c":"b","s":1,"t":0.64,"v":0,"lo":-25,"hi":20},{"c":"b","s":1,"t":0.73,"v":-6,"lo":-30,"hi":15},{"c":"b","s":1,"t":0.83,"v":0,"lo":-24,"hi":22},{"c":"b","s":1,"t":0.91,"v":3,"lo":-22,"hi":26},{"c":"b","s":1,"t":1,"v":10.7,"lo":-15,"hi":30},{"c":"b","s":1,"t":1.08,"v":4,"lo":-22,"hi":28},{"c":"b","s":1,"t":1.15,"v":8,"lo":-18,"hi":32},{"c":"b","s":1,"t":1.22,"v":13,"lo":-15,"hi":38},{"c":"b","s":1,"t":1.27,"v":18.5,"lo":-12,"hi":52},
{"c":"b","s":2,"t":1.74,"v":104.7,"lo":84,"hi":118},{"c":"b","s":2,"t":1.81,"v":86.5,"lo":68,"hi":108},{"c":"b","s":2,"t":1.89,"v":73.4,"lo":55,"hi":95},{"c":"b","s":2,"t":1.96,"v":55.2,"lo":40,"hi":78},{"c":"b","s":2,"t":2.03,"v":52.5,"lo":38,"hi":72},{"c":"b","s":2,"t":2.08,"v":47.3,"lo":32,"hi":70},{"c":"b","s":2,"t":2.15,"v":63,"lo":40,"hi":85},{"c":"b","s":2,"t":2.23,"v":70.8,"lo":45,"hi":95},{"c":"b","s":2,"t":2.31,"v":63,"lo":35,"hi":95},{"c":"b","s":2,"t":2.38,"v":76,"lo":40,"hi":100},{"c":"b","s":2,"t":2.45,"v":63,"lo":25,"hi":90},{"c":"b","s":2,"t":2.51,"v":26.4,"lo":-5,"hi":70},{"c":"b","s":2,"t":2.6,"v":-20.6,"lo":-50,"hi":15},{"c":"b","s":2,"t":2.65,"v":-20.6,"lo":-50,"hi":20},{"c":"b","s":2,"t":2.7,"v":15.9,"lo":-25,"hi":40},{"c":"b","s":2,"t":2.77,"v":-62.4,"lo":-95,"hi":-25},{"c":"b","s":2,"t":2.82,"v":-91.1,"lo":-120,"hi":-55},{"c":"b","s":2,"t":2.87,"v":-78,"lo":-110,"hi":-45},{"c":"b","s":2,"t":2.94,"v":-36.3,"lo":-70,"hi":-5},{"c":"b","s":2,"t":2.99,"v":-46.7,"lo":-80,"hi":-15},{"c":"b","s":2,"t":3.07,"v":-44.1,"lo":-80,"hi":-10},{"c":"b","s":2,"t":3.14,"v":-83.2,"lo":-120,"hi":-50},{"c":"b","s":2,"t":3.24,"v":-132.8,"lo":-165,"hi":-100},{"c":"b","s":2,"t":3.32,"v":-104,"lo":-140,"hi":-65},{"c":"b","s":2,"t":3.41,"v":-122.4,"lo":-160,"hi":-85},{"c":"b","s":2,"t":3.5,"v":-151.1,"lo":-190,"hi":-115},{"c":"b","s":2,"t":3.58,"v":-166.7,"lo":-200,"hi":-130},{"c":"b","s":2,"t":3.68,"v":-158.9,"lo":-195,"hi":-120},{"c":"b","s":2,"t":3.75,"v":-148.4,"lo":-185,"hi":-110},{"c":"b","s":2,"t":3.82,"v":-132.8,"lo":-175,"hi":-65},{"c":"b","s":2,"t":3.89,"v":-106.7,"lo":-150,"hi":-60},{"c":"b","s":2,"t":3.97,"v":-112,"lo":-150,"hi":-60},{"c":"b","s":2,"t":4.05,"v":-109.3,"lo":-150,"hi":-70},{"c":"b","s":2,"t":4.14,"v":-153.7,"lo":-190,"hi":-115},{"c":"b","s":2,"t":4.22,"v":-151.1,"lo":-190,"hi":-110},{"c":"b","s":2,"t":4.32,"v":-152.2,"lo":-190,"hi":-110},{"c":"b","s":2,"t":4.46,"v":-135.4,"lo":-175,"hi":-95},{"c":"b","s":2,"t":4.59,"v":-101.5,"lo":-145,"hi":-55},{"c":"b","s":2,"t":4.66,"v":-109.3,"lo":-150,"hi":-70},{"c":"b","s":2,"t":4.76,"v":-135.4,"lo":-180,"hi":-95},{"c":"b","s":2,"t":4.86,"v":-140.6,"lo":-190,"hi":-100},{"c":"b","s":2,"t":5,"v":-161.5,"lo":-215,"hi":-115},{"c":"b","s":2,"t":5.1,"v":-166.7,"lo":-225,"hi":-120},{"c":"b","s":2,"t":5.19,"v":-171.9,"lo":-230,"hi":-125},{"c":"b","s":2,"t":5.3,"v":-140.6,"lo":-200,"hi":-95},{"c":"b","s":2,"t":5.4,"v":-91.1,"lo":-150,"hi":-40},{"c":"b","s":2,"t":5.53,"v":-93.7,"lo":-140,"hi":-30},{"c":"b","s":2,"t":5.63,"v":-83.2,"lo":-130,"hi":-20},{"c":"b","s":2,"t":5.7,"v":-57.1,"lo":-110,"hi":-10},{"c":"b","s":2,"t":5.77,"v":-72.8,"lo":-115,"hi":-10},{"c":"b","s":2,"t":5.9,"v":-88.5,"lo":-135,"hi":-5},{"c":"b","s":2,"t":6.04,"v":-15.4,"lo":-70,"hi":60},{"c":"b","s":2,"t":6.1,"v":-10.2,"lo":-65,"hi":75},{"c":"b","s":2,"t":6.21,"v":18.5,"lo":-55,"hi":105},{"c":"b","s":2,"t":6.28,"v":15.9,"lo":-60,"hi":100},{"c":"b","s":2,"t":6.38,"v":-146,"lo":-225,"hi":-60},{"c":"b","s":2,"t":6.44,"v":-62.4,"lo":-160,"hi":0},{"c":"b","s":2,"t":6.51,"v":-5,"lo":-60,"hi":50},{"c":"b","s":2,"t":6.61,"v":-12.8,"lo":-65,"hi":40},{"c":"b","s":2,"t":6.71,"v":-10.2,"lo":-60,"hi":40},{"c":"b","s":2,"t":6.8,"v":-24.8,"lo":-75,"hi":30},{"c":"b","s":2,"t":6.9,"v":26.4,"lo":-25,"hi":80},{"c":"b","s":2,"t":6.99,"v":73.4,"lo":25,"hi":130},{"c":"b","s":2,"t":7.05,"v":125.6,"lo":80,"hi":190},{"c":"b","s":2,"t":7.12,"v":201.3,"lo":150,"hi":300},{"c":"b","s":2,"t":7.16,"v":203.9,"lo":150,"hi":300},{"c":"b","s":2,"t":7.24,"v":151.7,"lo":100,"hi":220},{"c":"b","s":2,"t":7.27,"v":136,"lo":75,"hi":150},
{"c":"b","s":3,"t":9.01,"v":147.5,"lo":120,"hi":180},{"c":"b","s":3,"t":9.08,"v":133.4,"lo":110,"hi":165},{"c":"b","s":3,"t":9.16,"v":156.9,"lo":125,"hi":185},{"c":"b","s":3,"t":9.21,"v":143.9,"lo":118,"hi":178},{"c":"b","s":3,"t":9.28,"v":146.5,"lo":120,"hi":175},{"c":"b","s":3,"t":9.42,"v":130.9,"lo":108,"hi":160},{"c":"b","s":3,"t":9.48,"v":146.5,"lo":118,"hi":178},{"c":"b","s":3,"t":9.54,"v":149.1,"lo":120,"hi":190},{"c":"b","s":3,"t":9.6,"v":170,"lo":140,"hi":210},{"c":"b","s":3,"t":9.67,"v":183,"lo":150,"hi":230},{"c":"b","s":3,"t":9.72,"v":175,"lo":148,"hi":235},{"c":"b","s":3,"t":9.75,"v":206.5,"lo":165,"hi":245},
{"c":"g","s":1,"t":0,"v":0,"lo":-8,"hi":8},{"c":"g","s":1,"t":0.3,"v":-1,"lo":-9,"hi":7},{"c":"g","s":1,"t":0.6,"v":1,"lo":-7,"hi":9},{"c":"g","s":1,"t":0.9,"v":0,"lo":-8,"hi":8},{"c":"g","s":1,"t":1.02,"v":-1,"lo":-9,"hi":7},{"c":"g","s":1,"t":1.12,"v":3,"lo":-5,"hi":11},{"c":"g","s":1,"t":1.18,"v":-2,"lo":-10,"hi":6},{"c":"g","s":1,"t":1.23,"v":8,"lo":0,"hi":16},{"c":"g","s":1,"t":1.27,"v":18.5,"lo":10,"hi":27},
{"c":"g","s":2,"t":1.74,"v":147.6,"lo":135,"hi":160},{"c":"g","s":2,"t":1.82,"v":130.9,"lo":115,"hi":145},{"c":"g","s":2,"t":1.93,"v":104.7,"lo":88,"hi":120},{"c":"g","s":2,"t":2.03,"v":70.8,"lo":52,"hi":88},{"c":"g","s":2,"t":2.13,"v":44.7,"lo":25,"hi":62},{"c":"g","s":2,"t":2.23,"v":31.6,"lo":12,"hi":50},{"c":"g","s":2,"t":2.3,"v":18.5,"lo":-2,"hi":40},{"c":"g","s":2,"t":2.35,"v":-18,"lo":-38,"hi":2},{"c":"g","s":2,"t":2.4,"v":-20.6,"lo":-42,"hi":0},{"c":"g","s":2,"t":2.47,"v":-59.8,"lo":-80,"hi":-40},{"c":"g","s":2,"t":2.57,"v":-83.2,"lo":-105,"hi":-60},{"c":"g","s":2,"t":2.67,"v":-93.7,"lo":-118,"hi":-70},{"c":"g","s":2,"t":2.74,"v":-109.3,"lo":-135,"hi":-85},{"c":"g","s":2,"t":2.84,"v":-96.3,"lo":-125,"hi":-70},{"c":"g","s":2,"t":2.94,"v":-109.3,"lo":-140,"hi":-80},{"c":"g","s":2,"t":3.01,"v":-127.5,"lo":-160,"hi":-95},{"c":"g","s":2,"t":3.07,"v":-124.9,"lo":-160,"hi":-90},{"c":"g","s":2,"t":3.18,"v":-187.6,"lo":-220,"hi":-150},{"c":"g","s":2,"t":3.28,"v":-138,"lo":-175,"hi":-100},{"c":"g","s":2,"t":3.36,"v":-156.3,"lo":-195,"hi":-115},{"c":"g","s":2,"t":3.43,"v":-124.9,"lo":-165,"hi":-85},{"c":"g","s":2,"t":3.5,"v":-161.5,"lo":-200,"hi":-120},{"c":"g","s":2,"t":3.58,"v":-239.8,"lo":-285,"hi":-200},{"c":"g","s":2,"t":3.65,"v":-239.8,"lo":-280,"hi":-200},{"c":"g","s":2,"t":3.73,"v":-174.5,"lo":-215,"hi":-135},{"c":"g","s":2,"t":3.78,"v":-195.4,"lo":-235,"hi":-155},{"c":"g","s":2,"t":3.84,"v":-177.1,"lo":-215,"hi":-140},{"c":"g","s":2,"t":3.92,"v":-182.3,"lo":-220,"hi":-145},{"c":"g","s":2,"t":3.97,"v":-184,"lo":-222,"hi":-147},
{"c":"r","s":1,"t":0,"v":-1,"lo":-8,"hi":6},{"c":"r","s":1,"t":0.2,"v":1,"lo":-6,"hi":8},{"c":"r","s":1,"t":0.4,"v":0,"lo":-7,"hi":7},{"c":"r","s":1,"t":0.6,"v":-1,"lo":-8,"hi":6},{"c":"r","s":1,"t":0.8,"v":0,"lo":-7,"hi":7},{"c":"r","s":1,"t":1,"v":-1,"lo":-8,"hi":6},{"c":"r","s":1,"t":1.15,"v":-3,"lo":-10,"hi":4},{"c":"r","s":1,"t":1.22,"v":-8,"lo":-15,"hi":-1},{"c":"r","s":1,"t":1.27,"v":-4,"lo":-11,"hi":3}
]
},
"concat":[
{"width":493,"height":383,"resolve":{"axis":{"x":"independent","y":"independent"}},
"layer":[
{"layer":[
{"data":{"name":"tl"},"transform":[{"filter":"datum.k=='g' && datum.t>=1.97"}],"mark":{"type":"line","strokeWidth":6,"opacity":0.15,"clip":true},"encoding":{"x":{"field":"t","type":"quantitative","scale":{"domain":[0,10],"nice":false},"axis":{"title":"time (Gyr)","values":[0,2,4,6,8,10]}},"y":{"field":"u","type":"quantitative","scale":{"domain":[-3000,3000],"nice":false},"axis":{"title":"distance to barycenter (kpc)","values":[-3000,-2000,-1000,0,1000,2000,3000]}},"color":{"field":"c","type":"nominal","scale":{"domain":["b","g","r"],"range":["#0000ff","#008000","#ff0000"]},"legend":null}}},
{"data":{"name":"tl"},"transform":[{"filter":"datum.k=='g' && datum.t>=1.97"}],"mark":{"type":"line","strokeWidth":6,"opacity":0.15,"clip":true},"encoding":{"x":{"field":"t","type":"quantitative"},"y":{"field":"l","type":"quantitative"},"color":{"field":"c","type":"nominal","legend":null}}},
{"data":{"name":"tl"},"transform":[{"filter":"datum.k=='d'"}],"mark":{"type":"line","strokeWidth":1.3,"clip":true},"encoding":{"x":{"field":"t","type":"quantitative"},"y":{"field":"u","type":"quantitative"},"color":{"field":"c","type":"nominal","legend":null}}},
{"data":{"name":"tl"},"transform":[{"filter":"datum.k=='d'"}],"mark":{"type":"line","strokeWidth":1.3,"clip":true},"encoding":{"x":{"field":"t","type":"quantitative"},"y":{"field":"l","type":"quantitative"},"color":{"field":"c","type":"nominal","legend":null}}},
{"data":{"name":"tl"},"transform":[{"filter":"datum.k=='g'"}],"mark":{"type":"line","strokeWidth":1.3,"strokeDash":[7,4],"clip":true},"encoding":{"x":{"field":"t","type":"quantitative"},"y":{"field":"u","type":"quantitative"},"color":{"field":"c","type":"nominal","legend":null}}},
{"data":{"name":"tl"},"transform":[{"filter":"datum.k=='g'"}],"mark":{"type":"line","strokeWidth":1.3,"strokeDash":[7,4],"clip":true},"encoding":{"x":{"field":"t","type":"quantitative"},"y":{"field":"l","type":"quantitative"},"color":{"field":"c","type":"nominal","legend":null}}},
{"data":{"values":[{}]},"mark":{"type":"text","text":"1000 km/s, 1 cm","fontSize":19.5,"fontWeight":"bold","align":"left","baseline":"alphabetic","color":"black"},"encoding":{"x":{"datum":0.5,"type":"quantitative"},"y":{"datum":2557,"type":"quantitative"}}},
{"data":{"values":[{}]},"mark":{"type":"text","text":"2","fontSize":13.5,"fontWeight":"bold","align":"left","baseline":"alphabetic","color":"black"},"encoding":{"x":{"datum":4.19,"type":"quantitative"},"y":{"datum":2713,"type":"quantitative"}}},
{"data":{"values":[{}]},"mark":{"type":"text","text":"/ g","fontSize":19.5,"fontWeight":"bold","align":"left","baseline":"alphabetic","color":"black"},"encoding":{"x":{"datum":4.6,"type":"quantitative"},"y":{"datum":2557,"type":"quantitative"}}},
{"data":{"values":[{}]},"mark":{"type":"text","text":"(c","fontSize":19.5,"fontWeight":"bold","align":"left","baseline":"alphabetic","color":"black"},"encoding":{"x":{"datum":0.5,"type":"quantitative"},"y":{"datum":2190,"type":"quantitative"}}},
{"data":{"values":[{}]},"mark":{"type":"text","text":"DM","fontSize":13.5,"fontWeight":"bold","align":"left","baseline":"alphabetic","color":"black"},"encoding":{"x":{"datum":0.905,"type":"quantitative"},"y":{"datum":2112,"type":"quantitative"}}},
{"data":{"values":[{}]},"mark":{"type":"text","text":"=c","fontSize":19.5,"fontWeight":"bold","align":"left","baseline":"alphabetic","color":"black"},"encoding":{"x":{"datum":1.53,"type":"quantitative"},"y":{"datum":2190,"type":"quantitative"}}},
{"data":{"values":[{}]},"mark":{"type":"text","text":"gal","fontSize":13.5,"fontWeight":"bold","align":"left","baseline":"alphabetic","color":"black"},"encoding":{"x":{"datum":2.085,"type":"quantitative"},"y":{"datum":2112,"type":"quantitative"}}},
{"data":{"values":[{}]},"mark":{"type":"text","text":")","fontSize":19.5,"fontWeight":"bold","align":"left","baseline":"alphabetic","color":"black"},"encoding":{"x":{"datum":2.55,"type":"quantitative"},"y":{"datum":2190,"type":"quantitative"}}},
{"data":{"values":[{}]},"mark":{"type":"rule","color":"black","strokeWidth":2},"encoding":{"x":{"datum":6.96,"type":"quantitative"},"x2":{"datum":7.57},"y":{"datum":2582,"type":"quantitative"}}},
{"data":{"values":[{}]},"mark":{"type":"rule","color":"black","strokeWidth":2,"strokeDash":[7,5]},"encoding":{"x":{"datum":6.96,"type":"quantitative"},"x2":{"datum":7.57},"y":{"datum":2123,"type":"quantitative"}}},
{"data":{"values":[{}]},"mark":{"type":"text","text":"DM, 2D","fontSize":19.5,"align":"left","baseline":"alphabetic","color":"black"},"encoding":{"x":{"datum":8.026,"type":"quantitative"},"y":{"datum":2463,"type":"quantitative"}}},
{"data":{"values":[{}]},"mark":{"type":"text","text":"GAL, 2D","fontSize":19.5,"align":"left","baseline":"alphabetic","color":"black"},"encoding":{"x":{"datum":8.026,"type":"quantitative"},"y":{"datum":2008,"type":"quantitative"}}},
{"data":{"values":[{}]},"mark":{"type":"rule","color":"#0000ff","strokeWidth":2},"encoding":{"x":{"datum":0.61,"type":"quantitative"},"x2":{"datum":1.22},"y":{"datum":-1559,"type":"quantitative"}}},
{"data":{"values":[{}]},"mark":{"type":"rule","color":"#008000","strokeWidth":2},"encoding":{"x":{"datum":0.61,"type":"quantitative"},"x2":{"datum":1.22},"y":{"datum":-2013,"type":"quantitative"}}},
{"data":{"values":[{}]},"mark":{"type":"rule","color":"#ff0000","strokeWidth":2},"encoding":{"x":{"datum":0.61,"type":"quantitative"},"x2":{"datum":1.22},"y":{"datum":-2472,"type":"quantitative"}}},
{"data":{"values":[{}]},"mark":{"type":"text","text":"c","fontSize":19.5,"align":"left","baseline":"alphabetic","color":"black"},"encoding":{"x":{"datum":1.657,"type":"quantitative"},"y":{"datum":-1648,"type":"quantitative"}}},
{"data":{"values":[{}]},"mark":{"type":"text","text":"D08","fontSize":13.5,"fontStyle":"italic","align":"left","baseline":"alphabetic","color":"black"},"encoding":{"x":{"datum":1.86,"type":"quantitative"},"y":{"datum":-1689,"type":"quantitative"}}},
{"data":{"values":[{}]},"mark":{"type":"text","text":"/2","fontSize":19.5,"align":"left","baseline":"alphabetic","color":"black"},"encoding":{"x":{"datum":2.434,"type":"quantitative"},"y":{"datum":-1648,"type":"quantitative"}}},
{"data":{"values":[{}]},"mark":{"type":"text","text":"c","fontSize":19.5,"align":"left","baseline":"alphabetic","color":"black"},"encoding":{"x":{"datum":1.657,"type":"quantitative"},"y":{"datum":-2102,"type":"quantitative"}}},
{"data":{"values":[{}]},"mark":{"type":"text","text":"D08","fontSize":13.5,"fontStyle":"italic","align":"left","baseline":"alphabetic","color":"black"},"encoding":{"x":{"datum":1.86,"type":"quantitative"},"y":{"datum":-2143,"type":"quantitative"}}},
{"data":{"values":[{}]},"mark":{"type":"text","text":"c","fontSize":19.5,"align":"left","baseline":"alphabetic","color":"black"},"encoding":{"x":{"datum":1.657,"type":"quantitative"},"y":{"datum":-2561,"type":"quantitative"}}},
{"data":{"values":[{}]},"mark":{"type":"text","text":"D08","fontSize":13.5,"fontStyle":"italic","align":"left","baseline":"alphabetic","color":"black"},"encoding":{"x":{"datum":1.86,"type":"quantitative"},"y":{"datum":-2602,"type":"quantitative"}}},
{"data":{"values":[{}]},"mark":{"type":"text","text":"*2","fontSize":19.5,"align":"left","baseline":"alphabetic","color":"black"},"encoding":{"x":{"datum":2.434,"type":"quantitative"},"y":{"datum":-2561,"type":"quantitative"}}}
]},
{"data":{"values":[{}]},"mark":{"type":"point","opacity":0},"encoding":{"x":{"datum":0,"type":"quantitative","axis":{"orient":"top","labels":false,"title":null,"values":[0,2,4,6,8,10]}},"y":{"datum":0,"type":"quantitative","axis":{"orient":"right","labels":false,"title":null,"values":[-3000,-2000,-1000,0,1000,2000,3000]}}}}
]},
{"width":493,"height":383,"resolve":{"axis":{"x":"independent","y":"independent"}},
"layer":[
{"layer":[
{"data":{"name":"tr"},"mark":{"type":"area","opacity":0.15,"clip":true},"encoding":{"x":{"field":"t","type":"quantitative","scale":{"domain":[0,10],"nice":false},"axis":{"title":"time (Gyr)","values":[0,2,4,6,8]}},"y":{"field":"lo","type":"quantitative","scale":{"domain":[-60,60],"nice":false},"axis":{"title":"offset (kpc)","values":[-60,-40,-20,0,20,40,60]}},"y2":{"field":"hi"},"color":{"field":"c","type":"nominal","scale":{"domain":["b","g","r"],"range":["#0000ff","#008000","#ff0000"]},"legend":null},"detail":{"field":"s","type":"nominal"}}},
{"data":{"name":"tr"},"mark":{"type":"line","strokeWidth":1.3,"clip":true},"encoding":{"x":{"field":"t","type":"quantitative"},"y":{"field":"v","type":"quantitative"},"color":{"field":"c","type":"nominal","legend":null},"detail":{"field":"s","type":"nominal"}}},
{"data":{"values":[{}]},"mark":{"type":"text","text":"1000 km/s, 1 cm","fontSize":19.5,"fontWeight":"bold","align":"left","baseline":"alphabetic","color":"black"},"encoding":{"x":{"datum":0.5,"type":"quantitative"},"y":{"datum":51.13,"type":"quantitative"}}},
{"data":{"values":[{}]},"mark":{"type":"text","text":"2","fontSize":13.5,"fontWeight":"bold","align":"left","baseline":"alphabetic","color":"black"},"encoding":{"x":{"datum":4.19,"type":"quantitative"},"y":{"datum":54.27,"type":"quantitative"}}},
{"data":{"values":[{}]},"mark":{"type":"text","text":"/ g","fontSize":19.5,"fontWeight":"bold","align":"left","baseline":"alphabetic","color":"black"},"encoding":{"x":{"datum":4.6,"type":"quantitative"},"y":{"datum":51.13,"type":"quantitative"}}},
{"data":{"values":[{}]},"mark":{"type":"text","text":"(c","fontSize":19.5,"fontWeight":"bold","align":"left","baseline":"alphabetic","color":"black"},"encoding":{"x":{"datum":0.5,"type":"quantitative"},"y":{"datum":43.8,"type":"quantitative"}}},
{"data":{"values":[{}]},"mark":{"type":"text","text":"DM","fontSize":13.5,"fontWeight":"bold","align":"left","baseline":"alphabetic","color":"black"},"encoding":{"x":{"datum":0.905,"type":"quantitative"},"y":{"datum":42.24,"type":"quantitative"}}},
{"data":{"values":[{}]},"mark":{"type":"text","text":"=c","fontSize":19.5,"fontWeight":"bold","align":"left","baseline":"alphabetic","color":"black"},"encoding":{"x":{"datum":1.53,"type":"quantitative"},"y":{"datum":43.8,"type":"quantitative"}}},
{"data":{"values":[{}]},"mark":{"type":"text","text":"gal","fontSize":13.5,"fontWeight":"bold","align":"left","baseline":"alphabetic","color":"black"},"encoding":{"x":{"datum":2.085,"type":"quantitative"},"y":{"datum":42.24,"type":"quantitative"}}},
{"data":{"values":[{}]},"mark":{"type":"text","text":")","fontSize":19.5,"fontWeight":"bold","align":"left","baseline":"alphabetic","color":"black"},"encoding":{"x":{"datum":2.55,"type":"quantitative"},"y":{"datum":43.8,"type":"quantitative"}}},
{"data":{"values":[{}]},"mark":{"type":"text","text":"GAL, 2D vs. DM, 2D","fontSize":19.5,"align":"right","baseline":"alphabetic","color":"black"},"encoding":{"x":{"datum":9.66,"type":"quantitative"},"y":{"datum":50,"type":"quantitative"}}}
]},
{"data":{"values":[{}]},"mark":{"type":"point","opacity":0},"encoding":{"x":{"datum":0,"type":"quantitative","axis":{"orient":"top","labels":false,"title":null,"values":[0,2,4,6,8]}},"y":{"datum":0,"type":"quantitative","axis":{"orient":"right","labels":false,"title":null,"values":[-60,-40,-20,0,20,40,60]}}}}
]},
{"width":493,"height":383,"resolve":{"axis":{"x":"independent","y":"independent"}},
"layer":[
{"layer":[
{"data":{"name":"bl"},"transform":[{"filter":"datum.k=='g' && datum.t>=1.4"}],"mark":{"type":"line","strokeWidth":10,"opacity":0.15,"clip":true},"encoding":{"x":{"field":"t","type":"quantitative","scale":{"domain":[0,10],"nice":false},"axis":{"title":"time (Gyr)","values":[0,2,4,6,8,10]}},"y":{"field":"u","type":"quantitative","scale":{"domain":[-3000,3000],"nice":false},"axis":{"title":"distance to barycenter (kpc)","values":[-3000,-2000,-1000,0,1000,2000,3000]}},"color":{"field":"c","type":"nominal","scale":{"domain":["b","g","r"],"range":["#0000ff","#008000","#ff0000"]},"legend":null}}},
{"data":{"name":"bl"},"transform":[{"filter":"datum.k=='g' && datum.t>=1.4"}],"mark":{"type":"line","strokeWidth":10,"opacity":0.15,"clip":true},"encoding":{"x":{"field":"t","type":"quantitative"},"y":{"field":"l","type":"quantitative"},"color":{"field":"c","type":"nominal","legend":null}}},
{"data":{"name":"bl"},"transform":[{"filter":"datum.k=='d'"}],"mark":{"type":"line","strokeWidth":1.3,"clip":true},"encoding":{"x":{"field":"t","type":"quantitative"},"y":{"field":"u","type":"quantitative"},"color":{"field":"c","type":"nominal","legend":null}}},
{"data":{"name":"bl"},"transform":[{"filter":"datum.k=='d'"}],"mark":{"type":"line","strokeWidth":1.3,"clip":true},"encoding":{"x":{"field":"t","type":"quantitative"},"y":{"field":"l","type":"quantitative"},"color":{"field":"c","type":"nominal","legend":null}}},
{"data":{"name":"bl"},"transform":[{"filter":"datum.k=='g'"}],"mark":{"type":"line","strokeWidth":1.3,"strokeDash":[7,4],"clip":true},"encoding":{"x":{"field":"t","type":"quantitative"},"y":{"field":"u","type":"quantitative"},"color":{"field":"c","type":"nominal","legend":null}}},
{"data":{"name":"bl"},"transform":[{"filter":"datum.k=='g'"}],"mark":{"type":"line","strokeWidth":1.3,"strokeDash":[7,4],"clip":true},"encoding":{"x":{"field":"t","type":"quantitative"},"y":{"field":"l","type":"quantitative"},"color":{"field":"c","type":"nominal","legend":null}}},
{"data":{"values":[{}]},"mark":{"type":"text","text":"2000 km/s, 10 cm","fontSize":19.5,"fontWeight":"bold","align":"left","baseline":"alphabetic","color":"black"},"encoding":{"x":{"datum":0.5,"type":"quantitative"},"y":{"datum":2557,"type":"quantitative"}}},
{"data":{"values":[{}]},"mark":{"type":"text","text":"2","fontSize":13.5,"fontWeight":"bold","align":"left","baseline":"alphabetic","color":"black"},"encoding":{"x":{"datum":4.48,"type":"quantitative"},"y":{"datum":2713,"type":"quantitative"}}},
{"data":{"values":[{}]},"mark":{"type":"text","text":"/ g","fontSize":19.5,"fontWeight":"bold","align":"left","baseline":"alphabetic","color":"black"},"encoding":{"x":{"datum":4.86,"type":"quantitative"},"y":{"datum":2557,"type":"quantitative"}}},
{"data":{"values":[{}]},"mark":{"type":"text","text":"(c","fontSize":19.5,"fontWeight":"bold","align":"left","baseline":"alphabetic","color":"black"},"encoding":{"x":{"datum":0.5,"type":"quantitative"},"y":{"datum":2190,"type":"quantitative"}}},
{"data":{"values":[{}]},"mark":{"type":"text","text":"DM","fontSize":13.5,"fontWeight":"bold","align":"left","baseline":"alphabetic","color":"black"},"encoding":{"x":{"datum":0.905,"type":"quantitative"},"y":{"datum":2112,"type":"quantitative"}}},
{"data":{"values":[{}]},"mark":{"type":"text","text":"=c","fontSize":19.5,"fontWeight":"bold","align":"left","baseline":"alphabetic","color":"black"},"encoding":{"x":{"datum":1.53,"type":"quantitative"},"y":{"datum":2190,"type":"quantitative"}}},
{"data":{"values":[{}]},"mark":{"type":"text","text":"gal","fontSize":13.5,"fontWeight":"bold","align":"left","baseline":"alphabetic","color":"black"},"encoding":{"x":{"datum":2.085,"type":"quantitative"},"y":{"datum":2112,"type":"quantitative"}}},
{"data":{"values":[{}]},"mark":{"type":"text","text":")","fontSize":19.5,"fontWeight":"bold","align":"left","baseline":"alphabetic","color":"black"},"encoding":{"x":{"datum":2.55,"type":"quantitative"},"y":{"datum":2190,"type":"quantitative"}}}
]},
{"data":{"values":[{}]},"mark":{"type":"point","opacity":0},"encoding":{"x":{"datum":0,"type":"quantitative","axis":{"orient":"top","labels":false,"title":null,"values":[0,2,4,6,8,10]}},"y":{"datum":0,"type":"quantitative","axis":{"orient":"right","labels":false,"title":null,"values":[-3000,-2000,-1000,0,1000,2000,3000]}}}}
]},
{"width":493,"height":383,"resolve":{"axis":{"x":"independent","y":"independent"}},
"layer":[
{"layer":[
{"data":{"name":"br"},"mark":{"type":"area","opacity":0.15,"clip":true},"encoding":{"x":{"field":"t","type":"quantitative","scale":{"domain":[0,10],"nice":false},"axis":{"title":"time (Gyr)","values":[0,2,4,6,8]}},"y":{"field":"lo","type":"quantitative","scale":{"domain":[-300,300],"nice":false},"axis":{"title":"offset (kpc)","values":[-300,-200,-100,0,100,200,300]}},"y2":{"field":"hi"},"color":{"field":"c","type":"nominal","scale":{"domain":["b","g","r"],"range":["#0000ff","#008000","#ff0000"]},"legend":null},"detail":{"field":"s","type":"nominal"}}},
{"data":{"name":"br"},"mark":{"type":"line","strokeWidth":1.3,"clip":true},"encoding":{"x":{"field":"t","type":"quantitative"},"y":{"field":"v","type":"quantitative"},"color":{"field":"c","type":"nominal","legend":null},"detail":{"field":"s","type":"nominal"}}},
{"data":{"values":[{}]},"mark":{"type":"text","text":"2000 km/s, 10 cm","fontSize":19.5,"fontWeight":"bold","align":"left","baseline":"alphabetic","color":"black"},"encoding":{"x":{"datum":0.5,"type":"quantitative"},"y":{"datum":255.7,"type":"quantitative"}}},
{"data":{"values":[{}]},"mark":{"type":"text","text":"2","fontSize":13.5,"fontWeight":"bold","align":"left","baseline":"alphabetic","color":"black"},"encoding":{"x":{"datum":4.48,"type":"quantitative"},"y":{"datum":271.3,"type":"quantitative"}}},
{"data":{"values":[{}]},"mark":{"type":"text","text":"/ g","fontSize":19.5,"fontWeight":"bold","align":"left","baseline":"alphabetic","color":"black"},"encoding":{"x":{"datum":4.86,"type":"quantitative"},"y":{"datum":255.7,"type":"quantitative"}}},
{"data":{"values":[{}]},"mark":{"type":"text","text":"(c","fontSize":19.5,"fontWeight":"bold","align":"left","baseline":"alphabetic","color":"black"},"encoding":{"x":{"datum":0.5,"type":"quantitative"},"y":{"datum":219,"type":"quantitative"}}},
{"data":{"values":[{}]},"mark":{"type":"text","text":"DM","fontSize":13.5,"fontWeight":"bold","align":"left","baseline":"alphabetic","color":"black"},"encoding":{"x":{"datum":0.905,"type":"quantitative"},"y":{"datum":211.2,"type":"quantitative"}}},
{"data":{"values":[{}]},"mark":{"type":"text","text":"=c","fontSize":19.5,"fontWeight":"bold","align":"left","baseline":"alphabetic","color":"black"},"encoding":{"x":{"datum":1.53,"type":"quantitative"},"y":{"datum":219,"type":"quantitative"}}},
{"data":{"values":[{}]},"mark":{"type":"text","text":"gal","fontSize":13.5,"fontWeight":"bold","align":"left","baseline":"alphabetic","color":"black"},"encoding":{"x":{"datum":2.085,"type":"quantitative"},"y":{"datum":211.2,"type":"quantitative"}}},
{"data":{"values":[{}]},"mark":{"type":"text","text":")","fontSize":19.5,"fontWeight":"bold","align":"left","baseline":"alphabetic","color":"black"},"encoding":{"x":{"datum":2.55,"type":"quantitative"},"y":{"datum":219,"type":"quantitative"}}},
{"data":{"values":[{}]},"mark":{"type":"text","text":"GAL, 2D vs. DM, 2D","fontSize":19.5,"align":"right","baseline":"alphabetic","color":"black"},"encoding":{"x":{"datum":9.66,"type":"quantitative"},"y":{"datum":250,"type":"quantitative"}}}
]},
{"data":{"values":[{}]},"mark":{"type":"point","opacity":0},"encoding":{"x":{"datum":0,"type":"quantitative","axis":{"orient":"top","labels":false,"title":null,"values":[0,2,4,6,8]}},"y":{"datum":0,"type":"quantitative","axis":{"orient":"right","labels":false,"title":null,"values":[-300,-200,-100,0,100,200,300]}}}}
]}
]
}
